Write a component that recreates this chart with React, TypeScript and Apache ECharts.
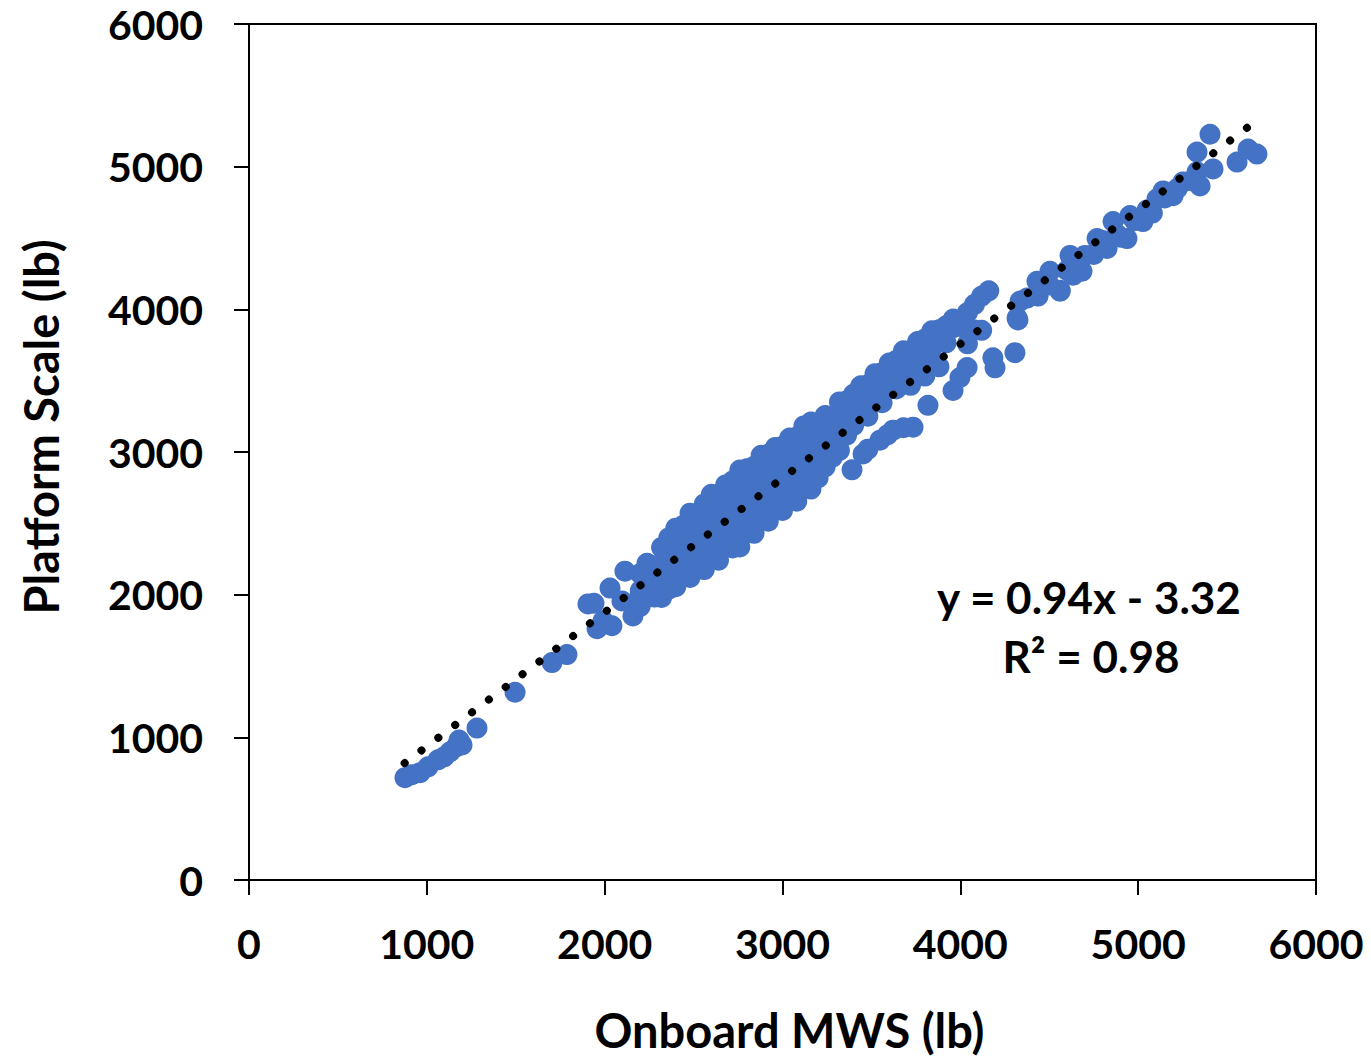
import React, { useEffect, useRef } from "react";
import * as echarts from "echarts";

const xTicks = [0, 1000, 2000, 3000, 4000, 5000, 6000];
const yTicks = [0, 1000, 2000, 3000, 4000, 5000, 6000];

const lowerCluster: number[][] = [
  [877, 717], [917, 738], [962, 752], [1007, 793], [1063, 842], [1097, 863], [1130, 898],
  [1164, 933], [1198, 947], [1181, 981], [1282, 1065], [1496, 1316], [1704, 1524], [1788, 1580],
  [1906, 1935], [1940, 1940], [1957, 1761], [1991, 1817], [2041, 1782], [2030, 2046], [2114, 2165],
  [2159, 1851], [2097, 1956], [2199, 1991], [2238, 2220], [2283, 2060], [2311, 2130],
];

const denseBand: number[][] = [
  [2200, 1918], [2200, 2028], [2200, 2148],
  [2240, 1986], [2240, 2106], [2240, 2216],
  [2280, 1983], [2280, 2093], [2280, 2203],
  [2320, 1981], [2320, 2091], [2320, 2201], [2320, 2331],
  [2360, 2038], [2360, 2158], [2360, 2278], [2360, 2398],
  [2400, 2056], [2400, 2156], [2400, 2276], [2400, 2386], [2400, 2466],
  [2440, 2144], [2440, 2254], [2440, 2374], [2440, 2484],
  [2480, 2121], [2480, 2241], [2480, 2361], [2480, 2481], [2480, 2571],
  [2520, 2199], [2520, 2319], [2520, 2439], [2520, 2559],
  [2560, 2176], [2560, 2296], [2560, 2416], [2560, 2536], [2560, 2636],
  [2600, 2244], [2600, 2374], [2600, 2494], [2600, 2614], [2600, 2704],
  [2640, 2242], [2640, 2352], [2640, 2472], [2640, 2592], [2640, 2702],
  [2680, 2339], [2680, 2459], [2680, 2579], [2680, 2699], [2680, 2769],
  [2720, 2327], [2720, 2457], [2720, 2577], [2720, 2697], [2720, 2797],
  [2760, 2334], [2760, 2434], [2760, 2554], [2760, 2684], [2760, 2794], [2760, 2874],
  [2800, 2432], [2800, 2552], [2800, 2672], [2800, 2792], [2800, 2882],
  [2840, 2430], [2840, 2550], [2840, 2670], [2840, 2790], [2840, 2900],
  [2880, 2527], [2880, 2647], [2880, 2767], [2880, 2887], [2880, 2977],
  [2920, 2515], [2920, 2635], [2920, 2755], [2920, 2885], [2920, 2985],
  [2960, 2592], [2960, 2712], [2960, 2832], [2960, 2952], [2960, 3032],
  [3000, 2590], [3000, 2700], [3000, 2820], [3000, 2940], [3000, 3040],
  [3040, 2658], [3040, 2778], [3040, 2898], [3040, 3018], [3040, 3098],
  [3080, 2655], [3080, 2765], [3080, 2885], [3080, 3005], [3080, 3105],
  [3120, 2763], [3120, 2883], [3120, 3003], [3120, 3113], [3120, 3183],
  [3160, 2740], [3160, 2870], [3160, 3000], [3160, 3120], [3160, 3210],
  [3200, 2818], [3200, 2948], [3200, 3068], [3200, 3188],
  [3240, 2896], [3240, 3016], [3240, 3136], [3240, 3256],
  [3280, 2963], [3280, 3003], [3280, 3123], [3280, 3243],
  [3320, 3011], [3320, 3131], [3320, 3251], [3320, 3351],
  [3360, 3118], [3360, 3238], [3360, 3358],
  [3400, 3186], [3400, 3296], [3400, 3406],
];

const upperBand: number[][] = [
  [3440, 3254], [3440, 3364], [3440, 3464],
  [3480, 3251], [3480, 3361], [3480, 3471],
  [3520, 3349], [3520, 3459], [3520, 3549],
  [3560, 3346], [3560, 3456], [3560, 3556],
  [3600, 3444], [3600, 3554], [3600, 3624],
  [3640, 3442], [3640, 3552], [3640, 3642],
  [3680, 3539], [3680, 3649], [3680, 3709],
  [3720, 3467], [3720, 3597], [3720, 3707],
  [3760, 3584], [3760, 3694], [3760, 3774],
  [3800, 3532], [3800, 3682], [3800, 3792],
  [3840, 3670], [3840, 3790], [3840, 3850],
  [3880, 3597], [3880, 3777], [3880, 3857],
  [3920, 3765], [3920, 3885],
  [3960, 3872], [3960, 3932],
  [4000, 3880],
  [4040, 3978], [4040, 3758],
  [4080, 4035], [4080, 3855],
  [4120, 4093], [4120, 3853],
  [4160, 4130],
];

const lowerBranch: number[][] = [
  [3391, 2875], [3453, 2986], [3480, 3020], [3548, 3083], [3590, 3120], [3621, 3153],
  [3680, 3170], [3734, 3174], [3818, 3327], [3959, 3431], [3998, 3522], [4038, 3592],
  [4183, 3660], [4195, 3590], [4307, 3696], [4324, 3926],
];

const upperRight: number[][] = [
  [4336, 4058], [4448, 4169], [4561, 4127], [4634, 4239],
  [4319, 3940], [4375, 4079], [4437, 4093], [4431, 4197], [4504, 4267], [4561, 4134],
  [4617, 4378], [4684, 4267], [4769, 4496], [4825, 4427], [4859, 4615], [4937, 4496],
  [4954, 4657], [5027, 4615], [5106, 4775], [5140, 4830], [5196, 4796], [5252, 4893],
  [5331, 4963], [5348, 4865], [5331, 5102], [5404, 5227], [5421, 4984], [5556, 5032],
  [5618, 5123], [5668, 5088],
  [4500, 4170], [4600, 4274], [4700, 4378], [4750, 4385], [4800, 4482], [4880, 4527],
  [4900, 4506], [4980, 4621], [5050, 4697], [5080, 4675], [5150, 4781], [5220, 4847],
  [5300, 4902],
];

const trendLine: number[][] = [
  [875, 819],
  [5630, 5289],
];

const equationText = "y = 0.94x - 3.32";
const r2Text = "R\u00B2 = 0.98";

const FONT = "Lato";

export default function App() {
  const ref = useRef<HTMLDivElement>(null);

  useEffect(() => {
    if (!ref.current) return;
    const chart = echarts.init(ref.current, undefined, { renderer: "svg" });
    const allPoints = [...lowerCluster, ...denseBand, ...upperBand, ...lowerBranch, ...upperRight];
    chart.setOption({
      animation: false,
      backgroundColor: "#ffffff",
      grid: {
        left: 249,
        top: 24,
        width: 1067,
        height: 862,
        show: true,
        borderColor: "#000000",
        borderWidth: 2,
        backgroundColor: "transparent",
      },
      xAxis: {
        type: "value",
        min: xTicks[0],
        max: xTicks[xTicks.length - 1],
        interval: 1000,
        name: "Onboard MWS (lb)",
        nameLocation: "middle",
        nameGap: 126,
        nameTextStyle: {
          fontFamily: FONT,
          fontWeight: "bold",
          fontSize: 47,
          color: "#000000",
          lineHeight: 48,
          padding: [0, 0, 0, 14],
        },
        axisLine: { show: true, onZero: false, lineStyle: { color: "#000000", width: 2 } },
        axisTick: { show: true, inside: false, length: 15, lineStyle: { color: "#000000", width: 2 } },
        axisLabel: {
          margin: 43,
          fontFamily: FONT,
          fontWeight: "bold",
          fontSize: 41,
          color: "#000000",
          lineHeight: 41,
          formatter: (v: number) => String(v),
        },
        splitLine: { show: false },
      },
      yAxis: {
        type: "value",
        min: yTicks[0],
        max: yTicks[yTicks.length - 1],
        interval: 1000,
        name: "Platform Scale (lb)",
        nameLocation: "middle",
        nameGap: 184,
        nameTextStyle: {
          fontFamily: FONT,
          fontWeight: "bold",
          fontSize: 47,
          color: "#000000",
          lineHeight: 48,
          padding: [0, 0, 0, 50],
        },
        axisLine: { show: true, onZero: false, lineStyle: { color: "#000000", width: 2 } },
        axisTick: { show: true, inside: false, length: 15, lineStyle: { color: "#000000", width: 2 } },
        axisLabel: {
          margin: 46,
          fontFamily: FONT,
          fontWeight: "bold",
          fontSize: 41,
          color: "#000000",
          formatter: (v: number) => String(v),
        },
        splitLine: { show: false },
      },
      series: [
        {
          type: "scatter",
          data: allPoints,
          symbol: "circle",
          symbolSize: 21,
          itemStyle: { color: "#4472C4", opacity: 1 },
          z: 2,
        },
        {
          type: "line",
          data: trendLine,
          showSymbol: false,
          symbol: "none",
          lineStyle: { color: "#000000", width: 8, type: [0.1, 21], cap: "round" },
          z: 3,
        },
      ],
      graphic: [
        {
          type: "text",
          x: 1089,
          y: 597,
          style: {
            text: equationText,
            fontFamily: FONT,
            fontWeight: "bold",
            fontSize: 44,
            fill: "#000000",
            align: "center",
            verticalAlign: "middle",
          },
        },
        {
          type: "text",
          x: 1091,
          y: 656,
          style: {
            text: r2Text,
            fontFamily: FONT,
            fontWeight: "bold",
            fontSize: 44,
            fill: "#000000",
            align: "center",
            verticalAlign: "middle",
          },
        },
      ],
    });
    return () => chart.dispose();
  }, []);

  return (
    <div
      ref={ref}
      style={{ position: "fixed", left: 0, top: 0, width: 1371, height: 1059, background: "#fff" }}
    />
  );
}
